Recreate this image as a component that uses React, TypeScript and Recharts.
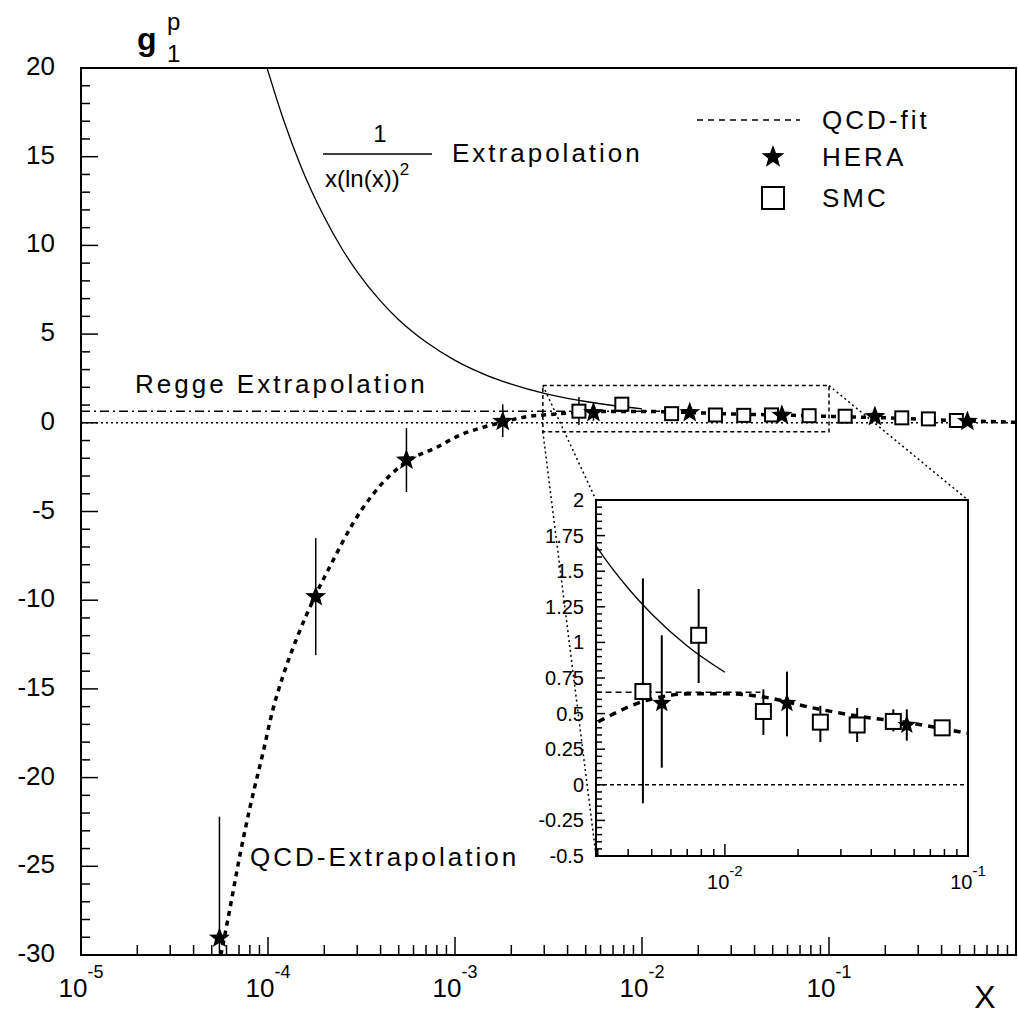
import React from "react";
import {
  ComposedChart,
  Line,
  Scatter,
  XAxis,
  YAxis,
  ErrorBar,
  ReferenceLine,
  ReferenceArea,
} from "recharts";

// g1^p gegen x, Hauptbild log-x mit Ausschnitt (Inset) fuer 3e-3 .. 0.1
const FONT = "'Liberation Sans', Arial, Helvetica, sans-serif";

// QCD-Fit / QCD-Extrapolation (dicke gestrichelte Kurve)
const FIT_X = [
  5.6e-5, 6.1e-5, 7.1e-5, 8.0e-5, 9.4e-5, 1.06e-4, 1.2e-4, 1.43e-4, 1.78e-4,
  2.23e-4, 2.8e-4, 3.6e-4, 5.5e-4, 8.0e-4, 1.06e-3, 1.36e-3, 1.78e-3, 2.5e-3,
  2.95e-3, 4.6e-3, 7.4e-3, 0.01, 0.014, 0.023, 0.036, 0.0575, 0.098, 0.2, 0.5,
  1.0,
];
const FIT_Y = [
  -30, -28, -24.3, -21.7, -18.6, -16.2, -14.3, -12.1, -9.8, -7.75, -5.8, -4.1,
  -2.2, -1.38, -0.7, -0.3, 0.03, 0.37, 0.435, 0.585, 0.64, 0.64, 0.62, 0.54,
  0.48, 0.435, 0.365, 0.28, 0.12, 0.03,
];

// 1/(x(ln x)^2) Extrapolation (duenne Kurve)
const XLN_X = [
  9.5e-5, 1.2e-4, 1.5e-4, 2e-4, 2.5e-4, 3e-4, 4e-4, 5e-4, 7e-4, 1e-3, 1.5e-3,
  2e-3, 3e-3, 4e-3, 5e-3, 7e-3, 1e-2,
];
const XLN_Y = [
  20.6, 17.2, 14.45, 11.6, 9.77, 8.51, 6.86, 5.81, 4.55, 3.52, 2.65, 2.18, 1.66,
  1.38, 1.2, 0.975, 0.79,
];

// Regge Extrapolation (konstant)
const REGGE_X = [1e-5, 0.014];
const REGGE_Y = [0.65, 0.65];

// HERA (Sterne)
const HERA_X = [5.5e-5, 1.8e-4, 5.5e-4, 1.8e-3, 5.5e-3, 0.018, 0.056, 0.176, 0.55];
const HERA_Y = [-29.05, -9.8, -2.1, 0.08, 0.573, 0.573, 0.42, 0.35, 0.08];
const HERA_LO = [-30, -13.1, -3.9, -0.8, 0.12, 0.34, 0.31, 0.25, 0.0];
const HERA_HI = [-22.2, -6.5, -0.3, 1.04, 1.05, 0.795, 0.53, 0.45, 0.16];

// SMC (Quadrate)
const SMC_X = [4.6e-3, 7.8e-3, 0.0144, 0.0247, 0.035, 0.0493, 0.0783, 0.122, 0.245, 0.34, 0.48];
const SMC_Y = [0.655, 1.05, 0.515, 0.44, 0.42, 0.445, 0.4, 0.37, 0.28, 0.22, 0.13];
const SMC_LO = [-0.13, 0.715, 0.35, 0.3, 0.3, 0.375, 0.37, 0.31, 0.24, 0.18, 0.1];
const SMC_HI = [1.45, 1.375, 0.67, 0.555, 0.54, 0.53, 0.43, 0.43, 0.32, 0.26, 0.16];

// Achsen
const MAIN_X_DOMAIN = [1e-5, 1];
const MAIN_Y_DOMAIN = [-30, 20];
const DECADES = [-5, -4, -3, -2, -1];
const MAIN_Y_LABELS = [-30, -25, -20, -15, -10, -5, 0, 5, 10, 15, 20];
const INSET_X_DOMAIN = [0.00295, 0.1];
const INSET_Y_DOMAIN = [-0.5, 2];
const INSET_X_TICKS = [
  0.003, 0.004, 0.005, 0.006, 0.007, 0.008, 0.009, 0.01, 0.02, 0.03, 0.04, 0.05,
  0.06, 0.07, 0.08, 0.09, 0.1,
];
const INSET_Y_LABELS = [-0.5, -0.25, 0, 0.25, 0.5, 0.75, 1, 1.25, 1.5, 1.75, 2];

// Zoom-Rahmen im Hauptbild und Ecken des Insets in Daten-Koordinaten
const BOX = { x1: 0.00295, x2: 0.1, y1: -0.5, y2: 2.1 };
const INSET_CORNERS = { left: 0.00568, right: 0.5537, top: -4.35, bottom: -24.42 };

const MAIN_X_TICKS = [
  ...DECADES.flatMap((d) =>
    [1, 2, 3, 4, 5, 6, 7, 8, 9].map((k) => Number((k * 10 ** d).toPrecision(3))),
  ),
  1,
];
const MAIN_Y_TICKS = Array.from({ length: 51 }, (_, i) => -30 + i);
const INSET_Y_TICKS = Array.from({ length: 51 }, (_, i) => Math.round((-0.5 + i * 0.05) * 100) / 100);

const pts = (xs: number[], ys: number[]) => xs.map((x, i) => ({ x, y: ys[i] }));
const errPts = (xs: number[], ys: number[], lo: number[], hi: number[]) =>
  xs.map((x, i) => ({ x, y: ys[i], err: [ys[i] - lo[i], hi[i] - ys[i]] }));

const fit = pts(FIT_X, FIT_Y);
const xln = pts(XLN_X, XLN_Y);
const regge = pts(REGGE_X, REGGE_Y);
const hera = errPts(HERA_X, HERA_Y, HERA_LO, HERA_HI);
const smc = errPts(SMC_X, SMC_Y, SMC_LO, SMC_HI);
const inInset = (d: { x: number }) => d.x >= INSET_X_DOMAIN[0] && d.x <= INSET_X_DOMAIN[1];

// Layout (Seite)
const W = 1018;
const H = 1017;
const M_LEFT = 81;
const M_TOP = 68;
const M_BOTTOM = 955;
const I_LEFT = 596;
const I_TOP = 500;
const I_RIGHT = 968;
const I_BOTTOM = 856;
// Inset-SVG beginnt bei (I_LEFT - 60, I_TOP - 10); lokale Koordinaten
const I_OX = I_LEFT - 60;
const I_OY = I_TOP - 10;
const I_PAD_R = 40;

function starPath(cx: number, cy: number, R: number) {
  const r = R * 0.42;
  let d = "";
  for (let i = 0; i < 10; i++) {
    const a = -Math.PI / 2 + (i * Math.PI) / 5;
    const rad = i % 2 === 0 ? R : r;
    d += (i ? "L" : "M") + (cx + rad * Math.cos(a)).toFixed(2) + " " + (cy + rad * Math.sin(a)).toFixed(2);
  }
  return d + "Z";
}

const star = (R: number) => (p: any) => <path d={starPath(p.cx, p.cy, R)} fill="#000" />;
const square = (s: number) => (p: any) => (
  <rect x={p.cx - s / 2} y={p.cy - s / 2} width={s} height={s} fill="#fff" stroke="#000" strokeWidth={2} />
);

const isDecade = (v: number) => {
  const e = Math.log10(v);
  return Math.abs(e - Math.round(e)) < 1e-6;
};

function MainYTick(props: any) {
  const { y, payload } = props;
  const v = payload.value;
  const major = MAIN_Y_LABELS.includes(v);
  return (
    <g>
      <line x1={M_LEFT} x2={M_LEFT + (major ? 17 : 9)} y1={y} y2={y} stroke="#000" strokeWidth={1.5} />
      {major && (
        <text x={55} y={y - 2} textAnchor="end" dominantBaseline="central" fontSize={26} fontFamily={FONT} fill="#000">
          {v}
        </text>
      )}
    </g>
  );
}

function MainXTick(props: any) {
  const { x, payload } = props;
  const v = payload.value;
  const major = isDecade(v);
  const e = Math.round(Math.log10(v));
  return (
    <g>
      <line x1={x} x2={x} y1={M_BOTTOM} y2={M_BOTTOM - (major ? 18 : 10)} stroke="#000" strokeWidth={1.5} />
      {major && e < 0 && (
        <text x={x} y={997} textAnchor="middle" fontSize={26} fontFamily={FONT} fill="#000">
          10
          <tspan dy={-19} fontSize={18}>
            {e}
          </tspan>
        </text>
      )}
    </g>
  );
}

function InsetYTick(props: any) {
  const { y, payload } = props;
  const v = payload.value;
  const major = INSET_Y_LABELS.includes(v);
  const left = I_LEFT - I_OX;
  return (
    <g>
      <line x1={left} x2={left + (major ? 9 : 6)} y1={y} y2={y} stroke="#000" strokeWidth={1.5} />
      {major && (
        <text x={584 - I_OX} y={y} textAnchor="end" dominantBaseline="central" fontSize={20} fontFamily={FONT} fill="#000">
          {v}
        </text>
      )}
    </g>
  );
}

function InsetXTick(props: any) {
  const { x, payload } = props;
  const v = payload.value;
  const major = isDecade(v);
  const e = Math.round(Math.log10(v));
  const bottom = I_BOTTOM - I_OY;
  return (
    <g>
      <line x1={x} x2={x} y1={bottom} y2={bottom - (major ? 12 : 7)} stroke="#000" strokeWidth={1.5} />
      {major && (
        <text x={x} y={889 - I_OY} textAnchor="middle" fontSize={20} fontFamily={FONT} fill="#000">
          10
          <tspan dy={-13} fontSize={15}>
            {e}
          </tspan>
        </text>
      )}
    </g>
  );
}

const txt = { fontFamily: FONT, fontSize: 26, fill: "#000", letterSpacing: 3 } as const;

export default function App() {
  return (
    <div style={{ position: "absolute", left: 0, top: 0, width: W, height: H, background: "#fff" }}>
      <ComposedChart width={W} height={H} margin={{ top: M_TOP, right: 2, left: 0, bottom: 0 }}>
        <XAxis
          dataKey="x"
          type="number"
          scale="log"
          domain={MAIN_X_DOMAIN}
          allowDataOverflow
          ticks={MAIN_X_TICKS}
          interval={0}
          tick={MainXTick}
          tickLine={false}
          axisLine={false}
          height={H - M_BOTTOM}
        />
        <YAxis
          dataKey="y"
          type="number"
          domain={MAIN_Y_DOMAIN}
          allowDataOverflow
          ticks={MAIN_Y_TICKS}
          interval={0}
          tick={MainYTick}
          tickLine={false}
          axisLine={false}
          width={M_LEFT}
        />
        <ReferenceArea
          x1={MAIN_X_DOMAIN[0]}
          x2={MAIN_X_DOMAIN[1]}
          y1={MAIN_Y_DOMAIN[0]}
          y2={MAIN_Y_DOMAIN[1]}
          fill="none"
          fillOpacity={0}
          stroke="#000"
          strokeWidth={2}
        />
        <ReferenceLine y={0} stroke="#000" strokeWidth={1.5} strokeDasharray="2 3" />
        <ReferenceArea
          x1={BOX.x1}
          x2={BOX.x2}
          y1={BOX.y1}
          y2={BOX.y2}
          fill="none"
          fillOpacity={0}
          stroke="#000"
          strokeWidth={1.5}
          strokeDasharray="4 3"
        />
        <ReferenceLine
          segment={[{ x: BOX.x1, y: BOX.y2 }, { x: INSET_CORNERS.left, y: INSET_CORNERS.top }]}
          stroke="#000"
          strokeWidth={1.5}
          strokeDasharray="2 3"
        />
        <ReferenceLine
          segment={[{ x: BOX.x1, y: BOX.y1 }, { x: INSET_CORNERS.left, y: INSET_CORNERS.bottom }]}
          stroke="#000"
          strokeWidth={1.5}
          strokeDasharray="2 3"
        />
        <ReferenceLine
          segment={[{ x: BOX.x2, y: BOX.y2 }, { x: INSET_CORNERS.right, y: INSET_CORNERS.top }]}
          stroke="#000"
          strokeWidth={1.5}
          strokeDasharray="2 3"
        />
        <Line data={regge} dataKey="y" stroke="#000" strokeWidth={1.5} strokeDasharray="9 4 2 4" dot={false} isAnimationActive={false} />
        <Line data={xln} dataKey="y" type="monotone" stroke="#000" strokeWidth={1.3} dot={false} isAnimationActive={false} />
        <Line data={fit} dataKey="y" type="monotone" stroke="#000" strokeWidth={3.5} strokeDasharray="5 5" dot={false} isAnimationActive={false} />
        <Scatter data={smc} dataKey="y" shape={square(13)} isAnimationActive={false}>
          <ErrorBar dataKey="err" direction="y" width={0} stroke="#000" strokeWidth={1.5} />
        </Scatter>
        <Scatter data={hera} dataKey="y" shape={star(11)} isAnimationActive={false}>
          <ErrorBar dataKey="err" direction="y" width={0} stroke="#000" strokeWidth={1.5} />
        </Scatter>
      </ComposedChart>

      {/* Inset */}
      <div style={{ position: "absolute", left: I_OX, top: I_OY }}>
        <ComposedChart
          width={I_RIGHT - I_OX + I_PAD_R}
          height={I_BOTTOM - I_OY + 50}
          margin={{ top: 10, right: I_PAD_R, left: 0, bottom: 0 }}
        >
          <XAxis
            dataKey="x"
            type="number"
            scale="log"
            domain={INSET_X_DOMAIN}
            allowDataOverflow
            ticks={INSET_X_TICKS}
            interval={0}
            tick={InsetXTick}
            tickLine={false}
            axisLine={false}
            height={50}
          />
          <YAxis
            dataKey="y"
            type="number"
            domain={INSET_Y_DOMAIN}
            allowDataOverflow
            ticks={INSET_Y_TICKS}
            interval={0}
            tick={InsetYTick}
            tickLine={false}
            axisLine={false}
            width={60}
          />
          <ReferenceArea
            x1={INSET_X_DOMAIN[0]}
            x2={INSET_X_DOMAIN[1]}
            y1={INSET_Y_DOMAIN[0]}
            y2={INSET_Y_DOMAIN[1]}
            fill="none"
            fillOpacity={0}
            stroke="#000"
            strokeWidth={2}
          />
          <ReferenceLine y={0} stroke="#000" strokeWidth={1.5} strokeDasharray="4 3" />
          <Line data={regge} dataKey="y" stroke="#000" strokeWidth={1.5} strokeDasharray="6 4" dot={false} isAnimationActive={false} />
          <Line data={xln} dataKey="y" type="monotone" stroke="#000" strokeWidth={1.3} dot={false} isAnimationActive={false} />
          <Line data={fit} dataKey="y" type="monotone" stroke="#000" strokeWidth={3.5} strokeDasharray="7 6" dot={false} isAnimationActive={false} />
          <Scatter data={smc.filter(inInset)} dataKey="y" shape={square(15)} isAnimationActive={false}>
            <ErrorBar dataKey="err" direction="y" width={0} stroke="#000" strokeWidth={2} />
          </Scatter>
          <Scatter data={hera.filter(inInset)} dataKey="y" shape={star(10)} isAnimationActive={false}>
            <ErrorBar dataKey="err" direction="y" width={0} stroke="#000" strokeWidth={2} />
          </Scatter>
        </ComposedChart>
      </div>

      {/* Beschriftungen und Legende */}
      <svg width={W} height={H} style={{ position: "absolute", left: 0, top: 0, pointerEvents: "none" }}>
        <text x={137} y={50} fontFamily={FONT} fontSize={32} fontWeight="bold">g</text>
        <text x={167} y={30} fontFamily={FONT} fontSize={24}>p</text>
        <text x={167} y={62} fontFamily={FONT} fontSize={24}>1</text>
        <text x={985} y={1008} textAnchor="middle" fontFamily={FONT} fontSize={32}>X</text>

        <text x={380} y={142} textAnchor="middle" fontFamily={FONT} fontSize={24}>1</text>
        <line x1={323} x2={432} y1={154} y2={154} stroke="#000" strokeWidth={1.5} />
        <text x={325} y={187} fontFamily={FONT} fontSize={24}>
          x(ln(x))
          <tspan dy={-12} fontSize={17}>2</tspan>
        </text>
        <text x={452} y={162} {...txt}>Extrapolation</text>

        <text x={135} y={393} {...txt}>Regge Extrapolation</text>
        <text x={250} y={866} {...txt}>QCD-Extrapolation</text>

        <line x1={697} x2={800} y1={120} y2={120} stroke="#000" strokeWidth={1.5} strokeDasharray="6 5" />
        <text x={822} y={129} {...txt}>QCD-fit</text>
        <path d={starPath(773, 157, 12)} fill="#000" />
        <text x={822} y={166} {...txt}>HERA</text>
        <rect x={762} y={187} width={22} height={22} fill="#fff" stroke="#000" strokeWidth={2} />
        <text x={822} y={207} {...txt}>SMC</text>
      </svg>
    </div>
  );
}
